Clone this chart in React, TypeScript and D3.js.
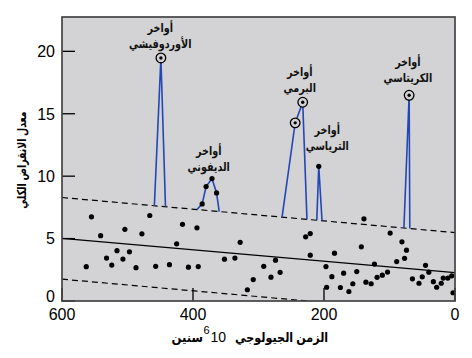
import React from "react";
import * as d3 from "d3";

// Background extinction data (age in Ma, total extinction rate)
const scatterAges = [563, 555, 541, 532, 524, 516, 507, 504, 497, 487, 478, 466, 457, 436, 425, 416, 407, 394, 392, 352, 336, 328, 317, 308, 292, 281, 274, 267, 228, 221, 221, 197, 196, 188, 184, 175, 170, 162, 156, 150, 143, 139, 136, 128, 123, 119, 111, 103, 99, 89, 81, 77, 74, 65, 55, 50, 45, 40, 33, 28, 21, 18, 11, 5, 3];
const scatterRates = [2.75, 6.74, 5.23, 3.44, 2.88, 4.03, 3.36, 5.74, 3.94, 2.67, 5.38, 6.85, 2.78, 2.91, 4.58, 6.14, 2.71, 5.86, 2.76, 3.35, 3.44, 4.7, 0.9, 1.72, 2.78, 1.91, 3.27, 2.3, 5.14, 5.4, 3.67, 2.76, 1.1, 1.95, 3.83, 1.08, 2.23, 0.76, 1.38, 2.36, 4.34, 6.58, 1.51, 1.38, 2.96, 1.9, 2.07, 2.32, 5.44, 3.16, 4.74, 3.42, 4.07, 1.78, 1.42, 1.94, 2.86, 2.31, 1.55, 1.1, 1.42, 1.84, 1.84, 2.02, 0.66];

// Regression line and bounds: [rate at 600 Ma, rate at 0 Ma]
const regressionMean = [5.02, 2.28];
const regressionUpper = [8.29, 5.48];
const regressionLower = [1.75, -1.05];

// Mass extinction events
const eventLine1 = ["أواخر", "أواخر", "أواخر", "أواخر", "أواخر"];
const eventLine2 = ["الأوردوفيشي", "الديفوني", "البرمي", "الترياسي", "الكريتاسي"];
const eventStartAges = [459, 394, 264, 211, 78];
const eventEndAges = [442, 360, 226, 203, 69];
const eventPeakAges = [[449], [386, 380, 371, 364], [244, 232.5], [208], [70]];
const eventPeakRates = [[19.47], [7.78, 9.17, 9.81, 8.66], [14.27, 15.92], [10.79], [16.48]];
const eventCircled = [[true], [false, false, false, false], [true, true], [false], [true]];
const eventLabelAges = [450, 376, 237, 195, 72];
const eventLabelRates = [20.62, 10.77, 17.09, 12.45, 17.9];

const xTicks = [600, 400, 200, 0];
const yTicks = [0, 5, 10, 15, 20];

const W = 472;
const H = 358;
const left = 62, right = 455, top = 17, bottom = 301;

export default function App() {
  const x = d3.scaleLinear().domain([600, 0]).range([left, right]);
  const y = d3.scaleLinear().domain([0, 22.75]).range([bottom, top]);

  const lineAt = (b: number[]) => (age: number) => b[0] + (b[1] - b[0]) * (600 - age) / 600;
  const upper = lineAt(regressionUpper);

  const line = d3.line<[number, number]>().x(d => x(d[0])).y(d => y(d[1]));
  const boundLine = (b: number[]) => line([[600, b[0]], [0, b[1]]]) as string;

  const blue = "#2347b5";
  const font = "'Liberation Sans', Arial, 'DejaVu Sans', sans-serif";

  return (
    <div style={{ position: "fixed", left: 0, top: 0 }}>
      <svg width={W} height={H} style={{ display: "block", background: "#fff" }}>
        <defs>
          <clipPath id="plot">
            <rect x={left} y={top} width={right - left} height={bottom - top} />
          </clipPath>
        </defs>
        <rect x={left} y={top} width={right - left} height={bottom - top} fill="#d3d3d5" />
        <g clipPath="url(#plot)">
          <path d={boundLine(regressionMean)} stroke="#000" strokeWidth={1.3} fill="none" />
          <path d={boundLine(regressionUpper)} stroke="#000" strokeWidth={1.2} strokeDasharray="6,4" fill="none" />
          <path d={boundLine(regressionLower)} stroke="#000" strokeWidth={1.2} strokeDasharray="6,4" fill="none" />
          {eventStartAges.map((s, i) => {
            const pts: [number, number][] = [[s, upper(s)]];
            eventPeakAges[i].forEach((a, j) => pts.push([a, eventPeakRates[i][j]]));
            pts.push([eventEndAges[i], upper(eventEndAges[i])]);
            return <path key={"e" + i} d={line(pts) as string} stroke={blue} strokeWidth={1.6} fill="none" />;
          })}
          {scatterAges.map((a, i) => (
            <circle key={"s" + i} cx={x(a)} cy={y(scatterRates[i])} r={2.6} fill="#000" />
          ))}
          {eventPeakAges.map((arr, i) =>
            arr.map((a, j) =>
              eventCircled[i][j] ? (
                <g key={"c" + i + "-" + j}>
                  <circle cx={x(a)} cy={y(eventPeakRates[i][j])} r={4.8} fill="#d3d3d5" stroke="#000" strokeWidth={1.3} />
                  <circle cx={x(a)} cy={y(eventPeakRates[i][j])} r={1.7} fill="#000" />
                </g>
              ) : (
                <circle key={"c" + i + "-" + j} cx={x(a)} cy={y(eventPeakRates[i][j])} r={2.6} fill="#000" />
              )
            )
          )}
        </g>
        {xTicks.map(t => (
          <line key={"xt" + t} x1={x(t)} x2={x(t)} y1={bottom} y2={bottom - 13} stroke="#000" strokeWidth={1.3} />
        ))}
        {yTicks.map(t => (
          <line key={"yt" + t} x1={left} x2={left + 13} y1={y(t)} y2={y(t)} stroke="#000" strokeWidth={1.3} />
        ))}
        <rect x={left} y={top} width={right - left} height={bottom - top} fill="none" stroke="#444" strokeWidth={1.7} />
        {xTicks.map(t => (
          <text key={"xl" + t} x={x(t)} y={320} textAnchor="middle" fontFamily={font} fontSize={16} fill="#000">{t}</text>
        ))}
        {yTicks.map(t => (
          <text key={"yl" + t} x={55} y={Math.min(y(t), 296.5)} dy="0.36em" textAnchor="end" fontFamily={font} fontSize={16} fill="#000">{t}</text>
        ))}
        {eventLabelAges.map((a, i) => (
          <g key={"l" + i} fontFamily={font} fontSize={12} fontWeight="bold" fill="#111" textAnchor="middle">
            <text transform={`translate(${x(a)},${y(eventLabelRates[i]) - 16}) scale(0.8,1)`} dominantBaseline="central" direction="rtl">{eventLine1[i]}</text>
            <text transform={`translate(${x(a)},${y(eventLabelRates[i])}) scale(0.8,1)`} dominantBaseline="central" direction="rtl">{eventLine2[i]}</text>
          </g>
        ))}
        <text transform="translate(21,160) rotate(-90) scale(0.75,1)" textAnchor="middle" dominantBaseline="central" fontFamily={font} fontSize={12.5} fontWeight="bold" fill="#000" direction="rtl">معدل الانقراض الكلي</text>
        <g fontFamily={font} fill="#000">
          <text transform="translate(235,342) scale(0.86,1)" textAnchor="start" fontSize={13} fontWeight="bold" direction="ltr">الزمن الجيولوجي</text>
          <text x={226} y={342} textAnchor="end" fontSize={14}>10</text>
          <text x={209.5} y={334} textAnchor="end" fontSize={11}>6</text>
          <text transform="translate(203,342) scale(0.9,1)" textAnchor="end" fontSize={13} fontWeight="bold">سنين</text>
        </g>
      </svg>
    </div>
  );
}
